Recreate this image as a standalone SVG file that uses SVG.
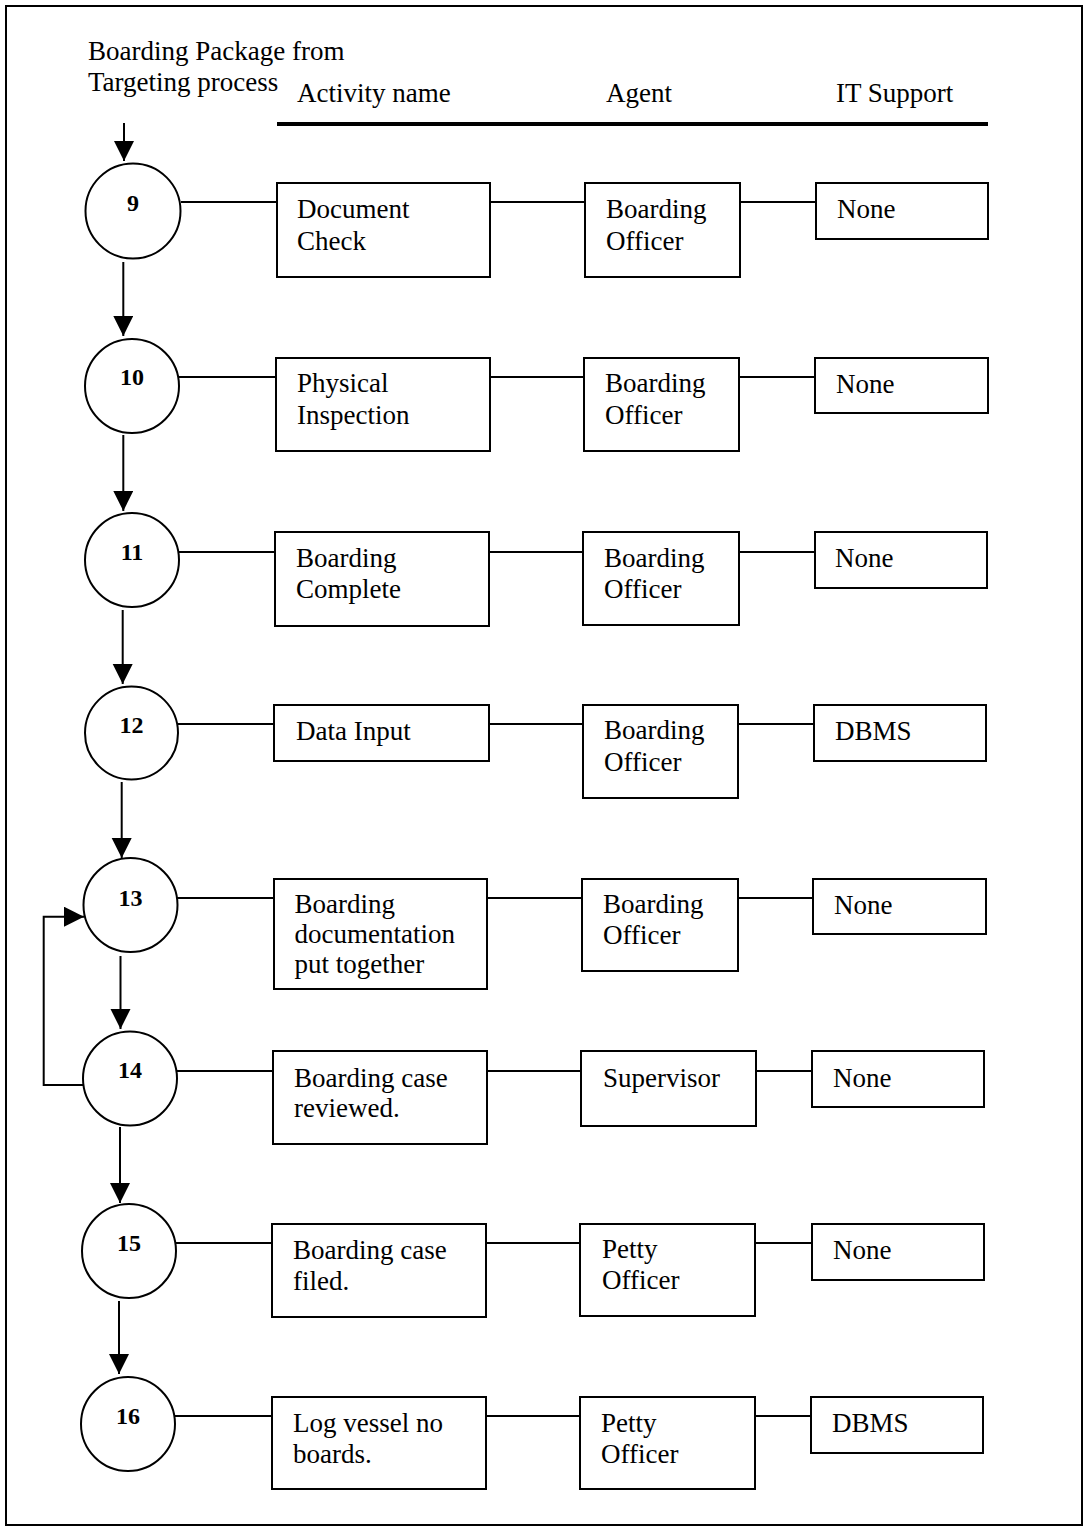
<svg xmlns="http://www.w3.org/2000/svg" width="1085" height="1528" viewBox="0 0 1085 1528">
<defs>
<style>
.t{font-family:"Liberation Serif","Times New Roman",serif;font-size:27px;fill:#000}
.n{font-family:"Liberation Serif","Times New Roman",serif;font-size:24px;font-weight:bold;fill:#000;text-anchor:middle}
.b{fill:#fff;stroke:#000;stroke-width:2}
.c{fill:#fff;stroke:#000;stroke-width:2}
.l{fill:none;stroke:#000;stroke-width:2}
.a{fill:none;stroke:#000;stroke-width:2;marker-end:url(#ah)}
</style>
<marker id="ah" markerUnits="userSpaceOnUse" markerWidth="21" markerHeight="21" refX="20" refY="10" orient="auto">
<path d="M0,0 L20,10 L0,20 Z" fill="#000"/>
</marker>
</defs>
<rect x="0" y="0" width="1085" height="1528" fill="#fff"/>
<rect x="6" y="6" width="1076" height="1519" fill="none" stroke="#000" stroke-width="2"/>

<g id="header">
<text class="t" x="88" y="60">Boarding Package from</text>
<text class="t" x="88" y="91">Targeting process</text>
<text class="t" x="297" y="102">Activity name</text>
<text class="t" x="606" y="102">Agent</text>
<text class="t" x="836" y="102">IT Support</text>
<line x1="277" y1="124" x2="988" y2="124" stroke="#000" stroke-width="4"/>
</g>

<g id="connectors">
<line class="a" x1="124" y1="123" x2="124" y2="161"/>
<line class="a" x1="123.3" y1="262" x2="123.3" y2="336"/>
<line class="a" x1="123.3" y1="435" x2="123.3" y2="511"/>
<line class="a" x1="122.7" y1="610" x2="122.7" y2="684"/>
<line class="a" x1="121.7" y1="782" x2="121.7" y2="858"/>
<line class="a" x1="120.5" y1="956" x2="120.5" y2="1029"/>
<line class="a" x1="120" y1="1127" x2="120" y2="1203"/>
<line class="a" x1="119" y1="1301" x2="119" y2="1374"/>
<polyline class="a" points="83,1085 43.7,1085 43.7,916.7 84,916.7"/>

<line class="l" x1="181" y1="202" x2="277" y2="202"/>
<line class="l" x1="490" y1="202" x2="585" y2="202"/>
<line class="l" x1="740" y1="202" x2="816" y2="202"/>

<line class="l" x1="179" y1="377" x2="276" y2="377"/>
<line class="l" x1="490" y1="377" x2="584" y2="377"/>
<line class="l" x1="739" y1="377" x2="815" y2="377"/>

<line class="l" x1="179" y1="552" x2="275" y2="552"/>
<line class="l" x1="489" y1="552" x2="583" y2="552"/>
<line class="l" x1="739" y1="552" x2="815" y2="552"/>

<line class="l" x1="178" y1="724" x2="274" y2="724"/>
<line class="l" x1="489" y1="724" x2="583" y2="724"/>
<line class="l" x1="738" y1="724" x2="814" y2="724"/>

<line class="l" x1="177" y1="898" x2="274" y2="898"/>
<line class="l" x1="487" y1="898" x2="582" y2="898"/>
<line class="l" x1="738" y1="898" x2="813" y2="898"/>

<line class="l" x1="177" y1="1071" x2="273" y2="1071"/>
<line class="l" x1="487" y1="1071" x2="581" y2="1071"/>
<line class="l" x1="756" y1="1071" x2="812" y2="1071"/>

<line class="l" x1="176" y1="1243" x2="272" y2="1243"/>
<line class="l" x1="486" y1="1243" x2="580" y2="1243"/>
<line class="l" x1="755" y1="1243" x2="812" y2="1243"/>

<line class="l" x1="175" y1="1416" x2="272" y2="1416"/>
<line class="l" x1="486" y1="1416" x2="580" y2="1416"/>
<line class="l" x1="755" y1="1416" x2="811" y2="1416"/>
</g>

<g id="step9">
<circle class="c" cx="133" cy="211" r="47.5"/>
<text class="n" x="133" y="211">9</text>
</g>
<g id="act9"><rect class="b" x="277" y="183" width="213" height="94"/>
<text class="t" x="297" y="218">Document</text><text class="t" x="297" y="250">Check</text></g>
<g id="agent9"><rect class="b" x="585" y="183" width="155" height="94"/>
<text class="t" x="606" y="218">Boarding</text><text class="t" x="606" y="250">Officer</text></g>
<g id="it9"><rect class="b" x="816" y="183" width="172" height="56"/>
<text class="t" x="837" y="218">None</text></g>

<g id="step10">
<circle class="c" cx="132" cy="386" r="47"/>
<text class="n" x="132" y="385">10</text>
</g>
<g id="act10"><rect class="b" x="276" y="358" width="214" height="93"/>
<text class="t" x="297" y="392">Physical</text><text class="t" x="297" y="424">Inspection</text></g>
<g id="agent10"><rect class="b" x="584" y="358" width="155" height="93"/>
<text class="t" x="605" y="392">Boarding</text><text class="t" x="605" y="424">Officer</text></g>
<g id="it10"><rect class="b" x="815" y="358" width="173" height="55"/>
<text class="t" x="836" y="393">None</text></g>

<g id="step11">
<circle class="c" cx="132" cy="560" r="47"/>
<text class="n" x="132" y="560">11</text>
</g>
<g id="act11"><rect class="b" x="275" y="532" width="214" height="94"/>
<text class="t" x="296" y="567">Boarding</text><text class="t" x="296" y="598">Complete</text></g>
<g id="agent11"><rect class="b" x="583" y="532" width="156" height="93"/>
<text class="t" x="604" y="567">Boarding</text><text class="t" x="604" y="598">Officer</text></g>
<g id="it11"><rect class="b" x="815" y="532" width="172" height="56"/>
<text class="t" x="835" y="567">None</text></g>

<g id="step12">
<circle class="c" cx="131.5" cy="733" r="46.5"/>
<text class="n" x="131.5" y="733">12</text>
</g>
<g id="act12"><rect class="b" x="274" y="705" width="215" height="56"/>
<text class="t" x="296" y="740">Data Input</text></g>
<g id="agent12"><rect class="b" x="583" y="705" width="155" height="93"/>
<text class="t" x="604" y="739">Boarding</text><text class="t" x="604" y="771">Officer</text></g>
<g id="it12"><rect class="b" x="814" y="705" width="172" height="56"/>
<text class="t" x="835" y="740">DBMS</text></g>

<g id="step13">
<circle class="c" cx="130.5" cy="905" r="47"/>
<text class="n" x="130.5" y="906">13</text>
</g>
<g id="act13"><rect class="b" x="274" y="879" width="213" height="110"/>
<text class="t" x="294.5" y="913">Boarding</text><text class="t" x="294.5" y="943">documentation</text><text class="t" x="294.5" y="973">put together</text></g>
<g id="agent13"><rect class="b" x="582" y="879" width="156" height="92"/>
<text class="t" x="603" y="913">Boarding</text><text class="t" x="603" y="944">Officer</text></g>
<g id="it13"><rect class="b" x="813" y="879" width="173" height="55"/>
<text class="t" x="834" y="914">None</text></g>

<g id="step14">
<circle class="c" cx="130" cy="1078.5" r="47"/>
<text class="n" x="130" y="1078">14</text>
</g>
<g id="act14"><rect class="b" x="273" y="1051" width="214" height="93"/>
<text class="t" x="294" y="1087">Boarding case</text><text class="t" x="294" y="1117">reviewed.</text></g>
<g id="agent14"><rect class="b" x="581" y="1051" width="175" height="75"/>
<text class="t" x="603" y="1087">Supervisor</text></g>
<g id="it14"><rect class="b" x="812" y="1051" width="172" height="56"/>
<text class="t" x="833" y="1087">None</text></g>

<g id="step15">
<circle class="c" cx="129" cy="1251" r="47"/>
<text class="n" x="129" y="1251">15</text>
</g>
<g id="act15"><rect class="b" x="272" y="1224" width="214" height="93"/>
<text class="t" x="293" y="1259">Boarding case</text><text class="t" x="293" y="1290">filed.</text></g>
<g id="agent15"><rect class="b" x="580" y="1224" width="175" height="92"/>
<text class="t" x="602" y="1258">Petty</text><text class="t" x="602" y="1289">Officer</text></g>
<g id="it15"><rect class="b" x="812" y="1224" width="172" height="56"/>
<text class="t" x="833" y="1259">None</text></g>

<g id="step16">
<circle class="c" cx="128" cy="1424" r="47"/>
<text class="n" x="128" y="1424">16</text>
</g>
<g id="act16"><rect class="b" x="272" y="1397" width="214" height="92"/>
<text class="t" x="293" y="1432">Log vessel no</text><text class="t" x="293" y="1463">boards.</text></g>
<g id="agent16"><rect class="b" x="580" y="1397" width="175" height="92"/>
<text class="t" x="601" y="1432">Petty</text><text class="t" x="601" y="1463">Officer</text></g>
<g id="it16"><rect class="b" x="811" y="1397" width="172" height="56"/>
<text class="t" x="832" y="1432">DBMS</text></g>
</svg>
